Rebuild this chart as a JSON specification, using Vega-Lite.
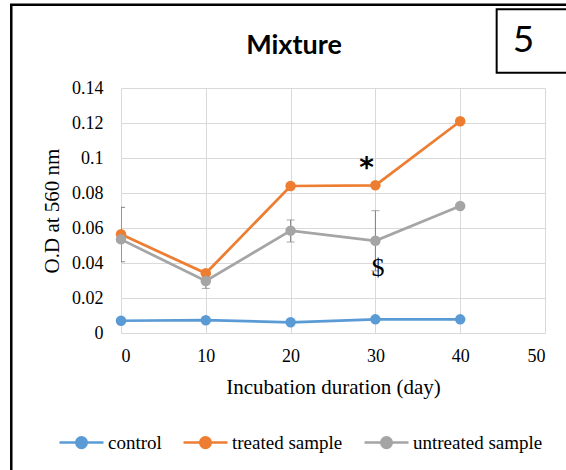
{
  "$schema": "https://vega.github.io/schema/vega-lite/v6.json",
  "autosize": "none",
  "width": 424,
  "height": 245,
  "padding": {"left": 121, "top": 88, "right": 21, "bottom": 137},
  "background": "white",
  "config": {
    "font": "Liberation Serif",
    "view": {"stroke": null},
    "axis": {
      "gridColor": "#D9D9D9",
      "gridWidth": 1,
      "grid": true,
      "domainColor": "#D9D9D9",
      "ticks": false,
      "labelOverlap": false,
      "labelFont": "Liberation Serif",
      "labelFontSize": 18,
      "labelColor": "#000000",
      "titleFont": "Liberation Serif",
      "titleFontSize": 21,
      "titleFontWeight": "normal",
      "titleColor": "#000000"
    },
    "axisX": {"labelPadding": 14, "titlePadding": 11, "tickCount": 50},
    "axisY": {"labelPadding": 18, "titlePadding": 9, "domain": false, "tickCount": 50},
    "legend": {"labelFont": "Liberation Serif", "labelFontSize": 19, "labelColor": "#000000"}
  },
  "datasets": {
    "series": [
      {"day": 0, "od": 0.0070, "series": "control"},
      {"day": 10, "od": 0.0073, "series": "control"},
      {"day": 20, "od": 0.0061, "series": "control"},
      {"day": 30, "od": 0.0078, "series": "control"},
      {"day": 40, "od": 0.0078, "series": "control"},
      {"day": 0, "od": 0.0564, "series": "treated sample"},
      {"day": 10, "od": 0.0341, "series": "treated sample"},
      {"day": 20, "od": 0.0840, "series": "treated sample"},
      {"day": 30, "od": 0.0844, "series": "treated sample"},
      {"day": 40, "od": 0.1210, "series": "treated sample"},
      {"day": 0, "od": 0.0535, "series": "untreated sample"},
      {"day": 10, "od": 0.0297, "series": "untreated sample"},
      {"day": 20, "od": 0.0585, "series": "untreated sample"},
      {"day": 30, "od": 0.0527, "series": "untreated sample"},
      {"day": 40, "od": 0.0726, "series": "untreated sample"}
    ],
    "errors": [
      {"day": 0, "lo": 0.0407, "hi": 0.0718},
      {"day": 10, "lo": 0.0255, "hi": 0.0339},
      {"day": 20, "lo": 0.0520, "hi": 0.0646},
      {"day": 30, "lo": 0.0355, "hi": 0.0699}
    ],
    "notes": [
      {"day": 28.97, "od": 0.096, "label": "*"},
      {"day": 30.3, "od": 0.0371, "label": "$"}
    ]
  },
  "layer": [
    {
      "data": {"name": "series"},
      "mark": {"type": "line", "strokeWidth": 2.75},
      "encoding": {
        "x": {"field": "day", "type": "quantitative", "title": "Incubation duration (day)", "scale": {"domain": [0, 50], "nice": false}, "axis": {"values": [0, 10, 20, 30, 40, 50], "tickCount": 50, "grid": true}},
        "y": {"field": "od", "type": "quantitative", "title": "O.D at 560 nm", "scale": {"domain": [0, 0.14], "nice": false}, "axis": {"values": [0, 0.02, 0.04, 0.06, 0.08, 0.1, 0.12, 0.14], "tickCount": 50, "grid": true, "format": ".2~f"}},
        "color": {
          "field": "series", "type": "nominal",
          "scale": {"domain": ["control", "treated sample", "untreated sample"], "range": ["#5B9BD5", "#ED7D31", "#A5A5A5"]},
          "legend": {
            "title": null,
            "orient": "none",
            "direction": "horizontal",
            "legendX": -63,
            "legendY": 331,
            "padding": 0,
            "columnPadding": 16,
            "symbolType": "M-1,0H1M-0.24,0A0.24,0.24,0,1,0,0.24,0A0.24,0.24,0,1,0,-0.24,0Z",
            "symbolSize": 1936,
            "symbolStrokeWidth": 2.5,
            "labelFont": "Liberation Serif",
            "labelFontSize": 19,
            "labelColor": "#000000",
            "labelOffset": 3,
            "encode": {
              "symbols": {
                "update": {
                  "fill": {"scale": "color", "field": "value"},
                  "stroke": {"scale": "color", "field": "value"},
                  "strokeWidth": {"value": 2.5},
                  "opacity": {"value": 1}
                }
              },
              "labels": {
                "enter": {
                  "font": {"value": "Liberation Serif"},
                  "fontSize": {"value": 19}
                },
                "update": {
                  "font": {"value": "Liberation Serif"},
                  "fontSize": {"value": 19}
                }
              }
            }
          }
        }
      }
    },
    {
      "data": {"values": [{}]},
      "mark": {"type": "rect", "filled": false, "stroke": "#000000", "strokeWidth": 2.5, "clip": false},
      "encoding": {
        "x": {"datum": -12.94, "type": "quantitative", "title": "Incubation duration (day)", "scale": {"domain": [0, 50], "nice": false}},
        "x2": {"datum": 53},
        "y": {"datum": 0.1876, "type": "quantitative", "title": "O.D at 560 nm", "scale": {"domain": [0, 0.14], "nice": false}},
        "y2": {"datum": -0.09}
      }
    },
    {
      "data": {"values": [{}]},
      "mark": {"type": "rect", "fill": "#ffffff", "stroke": "#000000", "strokeWidth": 2, "clip": false},
      "encoding": {
        "x": {"datum": 44.3, "type": "quantitative", "title": "Incubation duration (day)", "scale": {"domain": [0, 50], "nice": false}},
        "x2": {"datum": 53},
        "y": {"datum": 0.185, "type": "quantitative", "title": "O.D at 560 nm", "scale": {"domain": [0, 0.14], "nice": false}},
        "y2": {"datum": 0.1487}
      }
    },
    {
      "data": {"values": [{}]},
      "mark": {"type": "text", "text": "5", "font": "Lato", "fontSize": 37, "color": "#000000", "baseline": "middle", "align": "center", "clip": false},
      "encoding": {
        "x": {"datum": 47.46, "type": "quantitative", "title": "Incubation duration (day)", "scale": {"domain": [0, 50], "nice": false}},
        "y": {"datum": 0.1666, "type": "quantitative", "title": "O.D at 560 nm", "scale": {"domain": [0, 0.14], "nice": false}}
      }
    },
    {
      "data": {"values": [{}]},
      "mark": {"type": "text", "text": "Mixture", "font": "Lato", "fontSize": 27, "fontWeight": "bold", "color": "#000000", "baseline": "alphabetic", "align": "center", "clip": false},
      "encoding": {
        "x": {"datum": 20.4, "type": "quantitative", "title": "Incubation duration (day)", "scale": {"domain": [0, 50], "nice": false}},
        "y": {"datum": 0.1597, "type": "quantitative", "title": "O.D at 560 nm", "scale": {"domain": [0, 0.14], "nice": false}}
      }
    },
    {
      "data": {"name": "errors"},
      "mark": {"type": "errorbar", "ticks": {"size": 8, "thickness": 1}, "thickness": 1, "clip": true},
      "encoding": {
        "x": {"field": "day", "type": "quantitative", "title": "Incubation duration (day)", "scale": {"domain": [0, 50], "nice": false}},
        "y": {"field": "lo", "type": "quantitative", "title": "O.D at 560 nm", "scale": {"domain": [0, 0.14], "nice": false}},
        "y2": {"field": "hi"},
        "color": {"condition": {"test": "datum.day == 0", "value": "#595959"}, "value": "#808080"}
      }
    },
    {
      "data": {"name": "series"},
      "mark": {"type": "point", "filled": true, "size": 110, "opacity": 1},
      "encoding": {
        "x": {"field": "day", "type": "quantitative", "title": "Incubation duration (day)", "scale": {"domain": [0, 50], "nice": false}},
        "y": {"field": "od", "type": "quantitative", "title": "O.D at 560 nm", "scale": {"domain": [0, 0.14], "nice": false}},
        "color": {"field": "series", "type": "nominal"}
      }
    },
    {
      "data": {"name": "notes"},
      "transform": [{"filter": "datum.label == '*'"}],
      "mark": {"type": "text", "font": "DejaVu Sans", "fontSize": 28, "fontWeight": "bold", "color": "#000000", "baseline": "middle", "align": "center", "dy": 4},
      "encoding": {
        "x": {"field": "day", "type": "quantitative", "title": "Incubation duration (day)", "scale": {"domain": [0, 50], "nice": false}},
        "y": {"field": "od", "type": "quantitative", "title": "O.D at 560 nm", "scale": {"domain": [0, 0.14], "nice": false}},
        "text": {"field": "label"}
      }
    },
    {
      "data": {"name": "notes"},
      "transform": [{"filter": "datum.label == '$'"}],
      "mark": {"type": "text", "font": "Liberation Serif", "fontSize": 26, "color": "#000000", "baseline": "middle", "align": "center"},
      "encoding": {
        "x": {"field": "day", "type": "quantitative", "title": "Incubation duration (day)", "scale": {"domain": [0, 50], "nice": false}},
        "y": {"field": "od", "type": "quantitative", "title": "O.D at 560 nm", "scale": {"domain": [0, 0.14], "nice": false}},
        "text": {"field": "label"}
      }
    }
  ]
}
